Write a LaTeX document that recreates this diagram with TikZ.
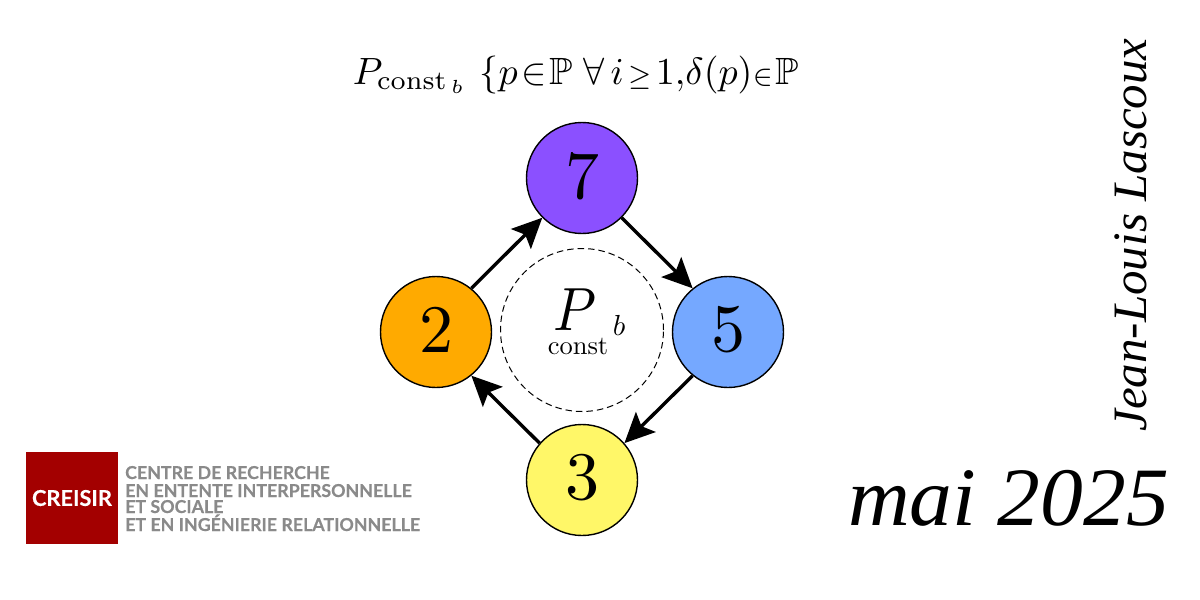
\documentclass[tikz,border=0pt]{standalone}
\usepackage{amssymb}
\usepackage{fontspec}
\newfontfamily\logofont{Lato}[UprightFont=* Bold,FakeBold=0.3]
\newfontfamily\timesit{Liberation Serif}
\usetikzlibrary{arrows.meta}
\tikzset{
 num/.style={circle,draw=black,line width=1.4pt,minimum size=111pt,inner sep=0pt},
 digit/.style={scale=6.8,inner sep=0pt,anchor=center},
 arr/.style={line width=3.4pt,-{Stealth[length=30pt,width=28pt,inset=6pt]}},
 logotext/.style={anchor=base west,inner sep=0pt,text=logogray,font=\logofont\fontsize{17.8}{17.8}\selectfont},
}
\definecolor{logored}{HTML}{A30000}
\definecolor{logogray}{HTML}{8A8A8A}
\definecolor{cviolet}{HTML}{8B50FF}
\definecolor{corange}{HTML}{FFAA00}
\definecolor{cblue}{HTML}{75A8FF}
\definecolor{cyellow}{HTML}{FFF768}
\begin{document}
\begin{tikzpicture}[x=1pt,y=-1pt]
\useasboundingbox (0,0) rectangle (1200,600);
\fill[white] (0,0) rectangle (1200,600);
\node[num,fill=cviolet] (n7) at (582,178) {};
\node[num,fill=corange] (n2) at (436,332) {};
\node[num,fill=cblue] (n5) at (728,332) {};
\node[num,fill=cyellow] (n3) at (582,480) {};
\node[digit] (d7) at ([yshift=2pt]n7.center) {7};
\node[digit] (d2) at ([yshift=2pt]n2.center) {2};
\node[digit] (d5) at ([yshift=2pt]n5.center) {5};
\node[digit] (d3) at ([yshift=2pt]n3.center) {3};
\draw[arr] (n2.51) -- (n7.225);
\draw[arr] (n7.-45) -- (n5.129);
\draw[arr] (n5.231) -- (n3.41);
\draw[arr] (n3.139) -- (n2.-51);
\node[circle,draw=black,dash pattern=on 6.5pt off 4pt,line width=1pt,minimum size=163pt,inner sep=0pt] (core) at (582,330) {};
\node[inner sep=0pt,anchor=base,xscale=5.5,yscale=6.1] (corelabel) at (575,330) {$P$};
\node[inner sep=0pt,anchor=base,scale=2.65] (coresub) at (578,354) {const};
\node[inner sep=0pt,anchor=base,scale=2.9] (coresup) at (619,335) {$b$};
\node[anchor=base west,inner sep=0pt,scale=3.8] (title) at (352,84) {$P_{\mathrm{const}_{\,b}}\ \{p\mkern2mu{\in}\mkern1mu\mathbb{P}\mkern5mu\forall\,i\mkern2mu{\scriptstyle\geq}\mkern2mu1{,}\delta(p){\scriptstyle\in}\mkern1mu\mathbb{P}$};
\node[rotate=90,anchor=base,inner sep=0pt,xscale=1.02] (author) at (1146,235) {\timesit\itshape\fontsize{48}{48}\selectfont Jean-Louis Lascoux};
\node[anchor=base east,inner sep=0pt,xscale=1.03] (date) at (1169,525) {\timesit\itshape\fontsize{83}{83}\selectfont mai 2025};
\node[fill=logored,minimum size=92pt,inner sep=0pt] (logo) at (72,498) {};
\node[text=white,inner sep=0pt,font=\logofont\fontsize{21.8}{21.8}\selectfont] (logoname) at (logo) {CREISIR};
\node[logotext] (l1) at (125,479) {CENTRE DE RECHERCHE};
\node[logotext] (l2) at (125,497) {EN ENTENTE INTERPERSONNELLE};
\node[logotext] (l3) at (125,513) {ET SOCIALE};
\node[logotext] (l4) at (125,531) {ET EN INGÉNIERIE RELATIONNELLE};
\end{tikzpicture}
\end{document}
